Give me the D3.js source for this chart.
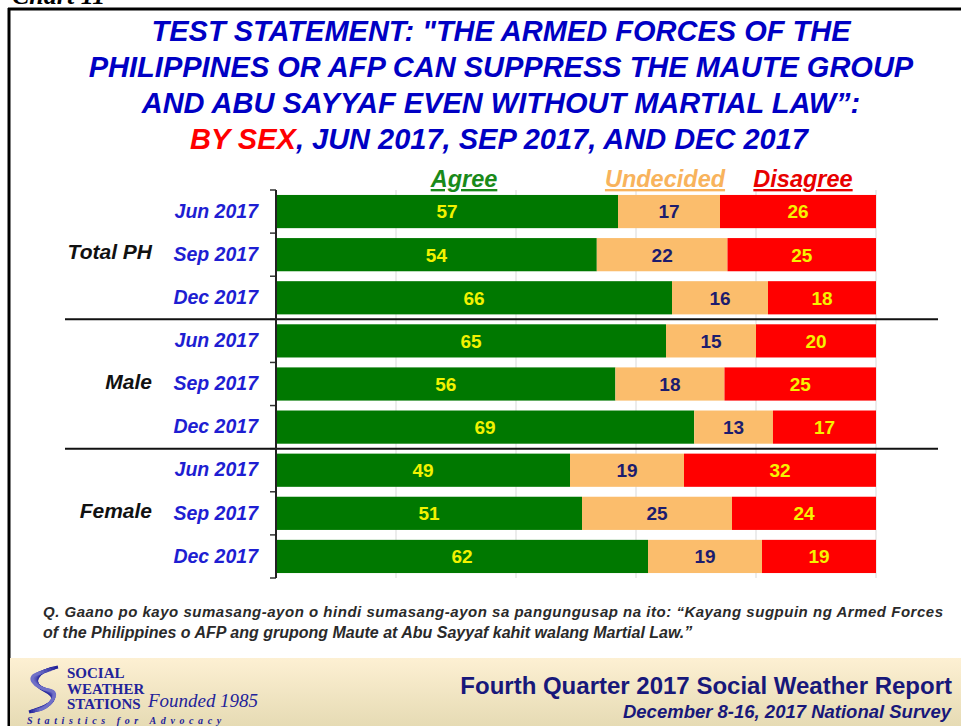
<!DOCTYPE html>
<html>
<head>
<meta charset="utf-8">
<script src="https://cdn.jsdelivr.net/npm/d3@7"></script>
<style>
  body { margin: 0; background: #fff; }
  text { font-family: "Liberation Sans", Arial, sans-serif; }
</style>
</head>
<body>
<svg id="chart" width="961" height="726"></svg>
<script>
// data
const groups = ["Total PH", "Male", "Female"];
const periods = ["Jun 2017", "Sep 2017", "Dec 2017"];
const agree = [57, 54, 66, 65, 56, 69, 49, 51, 62];
const undecided = [17, 22, 16, 15, 18, 13, 19, 25, 19];
const disagree = [26, 25, 18, 20, 25, 17, 32, 24, 19];
const seriesNames = ["Agree", "Undecided", "Disagree"];
const xTicks = [0, 0.2, 0.4, 0.6, 0.8, 1];

const colors = { Agree: "#007800", Undecided: "#fbbd6c", Disagree: "#ff0000" };
const labelColors = { Agree: "#f2f200", Undecided: "#1c1c6e", Disagree: "#f6f200" };
const legendColors = { Agree: "#1a8a1a", Undecided: "#f8b35c", Disagree: "#e80000" };

const rows = [];
groups.forEach((g, gi) => {
  periods.forEach((p, pi) => {
    const i = gi * 3 + pi;
    rows.push({ id: g + "|" + p, group: g, period: p,
      Agree: agree[i], Undecided: undecided[i], Disagree: disagree[i] });
  });
});

const svg = d3.select("#chart");

// frame
svg.append("line").attr("x1", 8).attr("x2", 961).attr("y1", 9).attr("y2", 9)
  .attr("stroke", "#000").attr("stroke-width", 3);
svg.append("line").attr("x1", 9).attr("x2", 9).attr("y1", 8).attr("y2", 726)
  .attr("stroke", "#000").attr("stroke-width", 3);
svg.append("text").attr("x", 12).attr("y", 4)
  .style("font-family", "'Liberation Serif', serif").style("font-style", "italic")
  .style("font-weight", "bold").style("font-size", "26px").text("Chart 11");

// title
const title = svg.append("g").attr("font-weight", "bold").attr("font-style", "italic")
  .attr("font-size", "29px").attr("fill", "#0000c4").attr("text-anchor", "middle");
const titleLines = [
  'TEST STATEMENT: "THE ARMED FORCES OF THE',
  "PHILIPPINES OR AFP CAN SUPPRESS THE MAUTE GROUP",
  "AND ABU SAYYAF EVEN WITHOUT MARTIAL LAW\u201d:"
];
titleLines.forEach((t, i) => {
  title.append("text").attr("x", 501).attr("y", 41 + i * 36).text(t);
});
const t4 = title.append("text").attr("x", 499).attr("y", 149);
t4.append("tspan").attr("fill", "#ff0000").text("BY SEX");
t4.append("tspan").text(", JUN 2017, SEP 2017, AND DEC 2017");

// scales
const x = d3.scaleLinear().domain([0, 1]).range([276, 876]);
const y = d3.scaleBand().domain(rows.map(d => d.id)).range([190, 578])
  .paddingInner(0.23).paddingOuter(0.115);
const gap = y.step() * y.paddingInner() / 2;

// gridlines
svg.append("g").selectAll("line").data(xTicks.slice(1)).join("line")
  .attr("x1", d => x(d)).attr("x2", d => x(d))
  .attr("y1", 190).attr("y2", 578)
  .attr("stroke", "#d9d9d9").attr("stroke-width", 1);

// stacked bars (normalised to 100%)
const stack = d3.stack().keys(seriesNames).offset(d3.stackOffsetExpand);
const stacked = stack(rows);

const layers = svg.append("g").selectAll("g").data(stacked).join("g")
  .attr("fill", d => colors[d.key]);
layers.selectAll("rect").data(d => d).join("rect")
  .attr("x", d => x(d[0]))
  .attr("y", d => y(d.data.id))
  .attr("width", d => x(d[1]) - x(d[0]))
  .attr("height", y.bandwidth());

const lab = svg.append("g").attr("font-weight", "bold").attr("font-size", "19px")
  .attr("text-anchor", "middle");
stacked.forEach(s => {
  lab.selectAll(null).data(s).join("text")
    .attr("x", d => (x(d[0]) + x(d[1])) / 2)
    .attr("y", d => y(d.data.id) + y.bandwidth() / 2)
    .attr("dy", "0.36em")
    .attr("fill", labelColors[s.key])
    .text(d => d.data[s.key]);
});

// y axis with period labels
const yAxis = svg.append("g").attr("transform", "translate(276,0)")
  .call(d3.axisLeft(y).tickSize(0).tickPadding(18).tickFormat(d => d.split("|")[1]));
yAxis.select(".domain").remove();
yAxis.selectAll("text").attr("fill", "#1e1ed2").style("font-size", "19.5px")
  .style("font-weight", "bold").style("font-style", "italic")
  .style("font-family", "'Liberation Sans', Arial, sans-serif");

const bounds = rows.map(d => y(d.id) - gap).concat([y(rows[rows.length - 1].id) + y.bandwidth() + gap]);
svg.append("g").selectAll("line").data(bounds).join("line")
  .attr("x1", 270).attr("x2", 276).attr("y1", d => d).attr("y2", d => d)
  .attr("stroke", "#333").attr("stroke-width", 1.5);

// group separators
svg.append("g").selectAll("line").data([3, 6]).join("line")
  .attr("x1", 65).attr("x2", 938)
  .attr("y1", i => y(rows[i].id) - gap).attr("y2", i => y(rows[i].id) - gap)
  .attr("stroke", "#111").attr("stroke-width", 2);

svg.append("line").attr("x1", 276).attr("x2", 276).attr("y1", 190).attr("y2", 578)
  .attr("stroke", "#222").attr("stroke-width", 2);

// group labels
svg.append("g").selectAll("text").data(groups).join("text")
  .attr("x", 152)
  .attr("y", g => y(g + "|Sep 2017") + y.bandwidth() / 2 - 3)
  .attr("dy", "0.36em").attr("text-anchor", "end")
  .attr("font-weight", "bold").attr("font-style", "italic").attr("font-size", "21px")
  .attr("fill", "#111").text(g => g);

// legend
const legendX = { Agree: 464, Undecided: 665, Disagree: 803 };
svg.append("g").selectAll("text").data(seriesNames).join("text")
  .attr("x", d => legendX[d]).attr("y", 187).attr("text-anchor", "middle")
  .attr("font-weight", "bold").attr("font-style", "italic").attr("font-size", "23.5px")
  .attr("fill", d => legendColors[d]).style("text-decoration", "underline")
  .text(d => d);

// question note
const note = svg.append("g").attr("font-weight", "bold").attr("font-style", "italic")
  .attr("fill", "#2a2a2a");
note.append("text").attr("x", 43).attr("y", 617).attr("font-size", "15px")
  .text("Q. Gaano po kayo sumasang-ayon o hindi sumasang-ayon sa pangungusap na ito: \u201cKayang sugpuin ng Armed Forces")
  .attr("textLength", 900).attr("lengthAdjust", "spacing");
note.append("text").attr("x", 43).attr("y", 638).attr("font-size", "16px")
  .text("of the Philippines o AFP ang grupong Maute at Abu Sayyaf kahit walang Martial Law.\u201d");

// footer band
const defs = svg.append("defs");
const grad = defs.append("linearGradient").attr("id", "foot").attr("x1", 0).attr("x2", 0).attr("y1", 0).attr("y2", 1);
grad.append("stop").attr("offset", 0).attr("stop-color", "#fdf0d3");
grad.append("stop").attr("offset", 1).attr("stop-color", "#e6dbb4");
svg.append("rect").attr("x", 10).attr("y", 658).attr("width", 951).attr("height", 68)
  .attr("fill", "url(#foot)");

svg.append("text").attr("x", 952).attr("y", 694).attr("text-anchor", "end")
  .attr("font-weight", "bold").attr("font-size", "24px").attr("fill", "#18187a")
  .text("Fourth Quarter 2017 Social Weather Report");
svg.append("text").attr("x", 951).attr("y", 718).attr("text-anchor", "end")
  .attr("font-weight", "bold").attr("font-style", "italic").attr("font-size", "18.5px")
  .attr("fill", "#18187a").text("December 8-16, 2017 National Survey");

// logo
const logo = svg.append("g");
const stripes = [0, 1, 2, 3, 4, 5];
logo.selectAll("path").data(stripes).join("path")
  .attr("d", i => `M${58 - i * 3.5},${667 + i * 1.2} C${36 - i * 2.5},${671 + i} ${30 + i},${683 + i} ${44 + i},${690} S${57 - i * 2},${704 + i} ${29 + i * 2},${712 - i * 0.4}`)
  .attr("fill", "none").attr("stroke", (i) => d3.interpolateRgb("#22229a", "#8080d0")(i / 6))
  .attr("stroke-width", 3.2);
const serif = "'Liberation Serif', 'DejaVu Serif', serif";
["SOCIAL", "WEATHER", "STATIONS"].forEach((t, i) => {
  logo.append("text").attr("x", 67).attr("y", 678 + i * 15.5).text(t)
    .style("font-family", serif).attr("font-weight", "bold").attr("font-size", "15px")
    .attr("fill", "#23239a");
});
logo.append("text").attr("x", 148).attr("y", 707).text("Founded 1985")
  .style("font-family", serif).attr("font-style", "italic").attr("font-size", "19px")
  .attr("textLength", 110).attr("fill", "#23239a");
logo.append("text").attr("x", 27).attr("y", 724).text("Statistics for Advocacy")
  .style("font-family", serif).attr("font-style", "italic").attr("font-weight", "bold")
  .attr("font-size", "10px").attr("letter-spacing", "4.6px").attr("fill", "#23239a");
</script>
</body>
</html>
